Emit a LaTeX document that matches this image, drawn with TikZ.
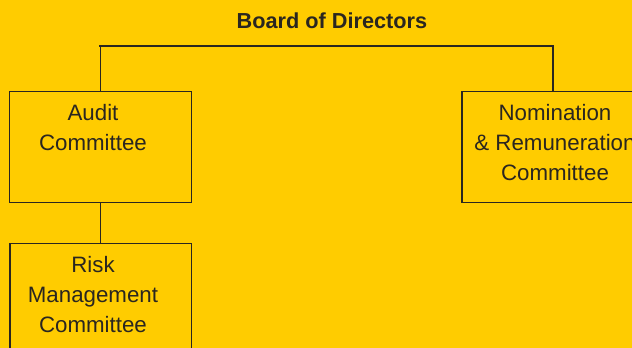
\documentclass[tikz,border=0pt]{standalone}
\usepackage{fontspec}
\setmainfont{Liberation Sans}
\definecolor{bgyellow}{HTML}{FFCC00}
\definecolor{ink}{HTML}{2A2620}
\begin{document}
\begin{tikzpicture}[x=1pt,y=-1pt,
  box/.style={draw=ink, line width=1.4pt, rectangle, minimum width=182pt, minimum height=111.5pt, inner sep=0pt, anchor=north west},
  txt/.style={text=ink, font=\fontsize{22.3}{30}\selectfont, align=center, inner sep=0pt},
  conn/.style={draw=ink, line width=1.4pt}]
\useasboundingbox (0,0) rectangle (632,348);
\clip (0,0) rectangle (632,348);
\fill[bgyellow] (0,0) rectangle (632,348);
\node[txt, font=\fontsize{21.7}{30}\selectfont\bfseries] (board) at (332,21) {Board of Directors};
\node[box] (audit) at (8.5,90.5) {};
\node[box] (nom) at (461.3,90.5) {};
\node[box, minimum width=181.7pt] (risk) at (9.3,242.7) {};
\node[txt] (audittxt) at (93,128) {Audit\\Committee};
\node[txt] (nomtxt) at (555,143) {Nomination\\\& Remuneration\\Committee};
\node[txt] (risktxt) at (93,295) {Risk\\Management\\Committee};
\coordinate (bar) at (99,46);
\draw[conn] (audit.north) |- (bar) -| (nom.north);
\draw[conn] (audit.south) -- (audit.south |- risk.north);
\end{tikzpicture}
\end{document}
